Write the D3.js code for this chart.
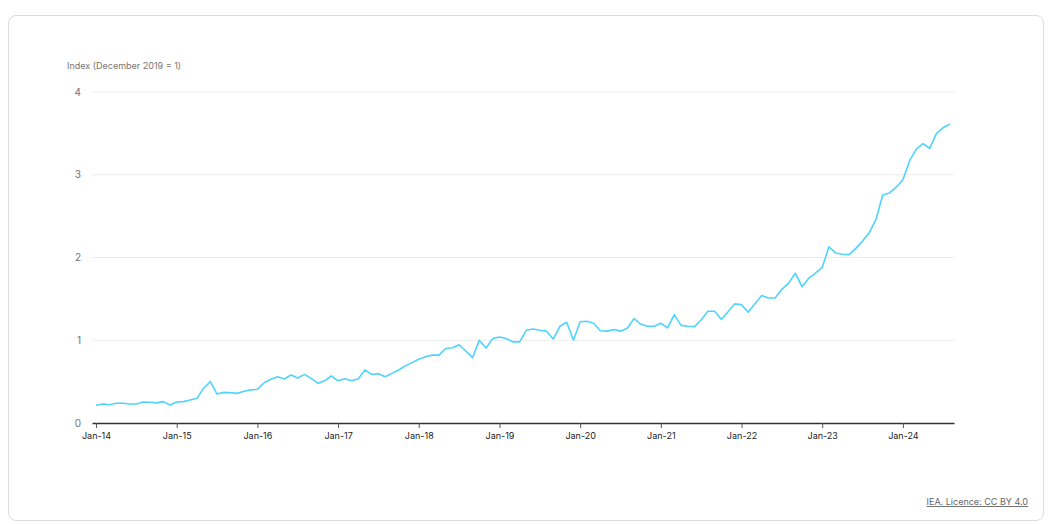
<!DOCTYPE html>
<html>
<head>
<meta charset="utf-8">
<script src="https://cdn.jsdelivr.net/npm/d3@7"></script>
<style>
  html, body { margin: 0; padding: 0; background: #fff; }
  body { width: 1051px; height: 524px; overflow: hidden; font-family: Inter, "Noto Sans", sans-serif; }
  .card { position: absolute; left: 8px; top: 15px; width: 1036px; height: 506px; border: 1px solid #dcdcdc; border-radius: 8px; box-sizing: border-box; }
</style>
</head>
<body>
<div class="card"></div>
<svg id="chart" width="1051" height="524" style="position:absolute;left:0;top:0"></svg>
<script>
// Monthly index, Jan-2014 .. Aug-2024 (December 2019 = 1)
const startYear = 2014;
const values = [
  // 2014
  0.214, 0.23, 0.22, 0.238, 0.238, 0.23, 0.23, 0.254, 0.25, 0.243, 0.258, 0.218,
  // 2015
  0.254, 0.258, 0.278, 0.298, 0.42, 0.50, 0.35, 0.37, 0.366, 0.358, 0.383, 0.40,
  // 2016
  0.407, 0.487, 0.528, 0.56, 0.532, 0.58, 0.544, 0.588, 0.54, 0.48, 0.51, 0.568,
  // 2017
  0.51, 0.535, 0.51, 0.535, 0.64, 0.588, 0.596, 0.56, 0.60, 0.64, 0.69, 0.73,
  // 2018
  0.77, 0.80, 0.82, 0.82, 0.90, 0.91, 0.945, 0.87, 0.79, 1.0, 0.906, 1.02,
  // 2019
  1.04, 1.02, 0.98, 0.98, 1.12, 1.135, 1.12, 1.11, 1.015, 1.17, 1.217, 1.0,
  // 2020
  1.224, 1.23, 1.205, 1.115, 1.11, 1.13, 1.11, 1.145, 1.26, 1.196, 1.168, 1.17,
  // 2021
  1.205, 1.15, 1.31, 1.18, 1.17, 1.165, 1.245, 1.35, 1.35, 1.25, 1.345, 1.44,
  // 2022
  1.43, 1.34, 1.44, 1.54, 1.51, 1.51, 1.615, 1.69, 1.81, 1.647, 1.75, 1.81,
  // 2023
  1.88, 2.13, 2.055, 2.04, 2.035, 2.11, 2.2, 2.30, 2.46, 2.755, 2.78, 2.85,
  // 2024
  2.94, 3.17, 3.31, 3.375, 3.32, 3.50, 3.57, 3.61
];
const yTicks = [0, 1, 2, 3, 4];
const xTickYears = [2014, 2015, 2016, 2017, 2018, 2019, 2020, 2021, 2022, 2023, 2024];
const yTitle = "Index (December 2019 = 1)";
const credit = "IEA. Licence: CC BY 4.0";

(function () {
const svg = d3.select("#chart");
const mLeft = 92, mRight = 954, mTop = 92, mBottom = 423;

const x = d3.scaleLinear().domain([-0.6, values.length - 1 + 0.6]).range([mLeft, mRight]);
const y = d3.scaleLinear().domain([0, 4]).range([mBottom, mTop]);

// gridlines
svg.append("g")
  .selectAll("line")
  .data(yTicks.filter(d => d > 0))
  .join("line")
  .attr("x1", mLeft).attr("x2", mRight)
  .attr("y1", d => y(d)).attr("y2", d => y(d))
  .attr("stroke", "#ececec").attr("stroke-width", 1);

// y labels
svg.append("g")
  .selectAll("text")
  .data(yTicks)
  .join("text")
  .attr("x", 81).attr("y", d => y(d))
  .attr("dy", "0.35em")
  .attr("text-anchor", "end")
  .attr("font-size", 10)
  .attr("fill", "#6b7488")
  .text(d => d);

// y title
svg.append("text")
  .attr("x", 67).attr("y", 69)
  .attr("font-size", 9)
  .attr("fill", "#7a7470")
  .text(yTitle);

// x axis
const xAxis = d3.axisBottom(x)
  .tickValues(xTickYears.map(yr => (yr - startYear) * 12))
  .tickFormat(d => "Jan-" + String(startYear + d / 12).slice(2))
  .tickSize(5)
  .tickSizeOuter(0);

const gx = svg.append("g").attr("transform", `translate(0,${mBottom})`).call(xAxis);
gx.select(".domain").attr("stroke", "#333").attr("stroke-width", 1.5);
gx.selectAll(".tick line").attr("stroke", "#555");
gx.selectAll(".tick text")
  .attr("font-family", "Inter, 'Noto Sans', sans-serif")
  .attr("font-size", 9)
  .attr("fill", "#222")
  .attr("dy", "0.9em");

// line
const line = d3.line().x((d, i) => x(i)).y(d => y(d));
svg.append("path")
  .datum(values)
  .attr("fill", "none")
  .attr("stroke", "#4fd3ff")
  .attr("stroke-width", 1.6)
  .attr("stroke-linejoin", "round")
  .attr("d", line);

// credit
svg.append("text")
  .attr("x", 1028).attr("y", 505)
  .attr("text-anchor", "end")
  .attr("font-size", 9)
  .attr("fill", "#666")
  .attr("text-decoration", "underline")
  .text(credit);
})();
</script>
</body>
</html>
